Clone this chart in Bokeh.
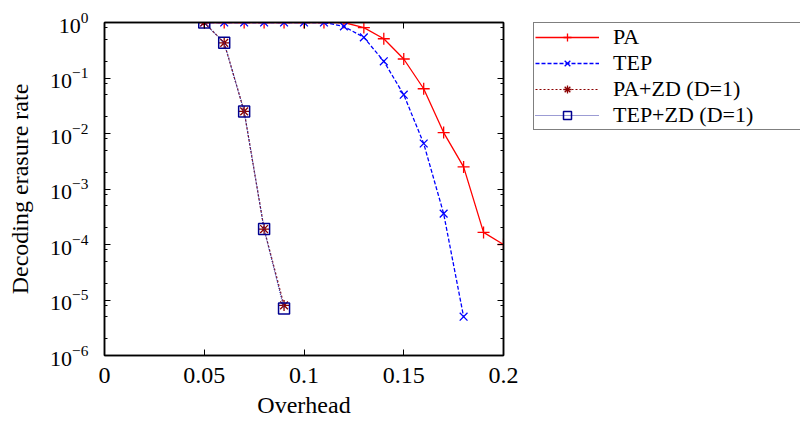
from bokeh.plotting import figure
from bokeh.layouts import row
from bokeh.models import (FixedTicker, LogAxis, LinearAxis, Legend, LegendItem, Range1d,
                          CustomJSTickFormatter)
from bokeh.embed import file_html
from bokeh.resources import INLINE

# ---- data ----
x_pa = [0.05, 0.06, 0.07, 0.08, 0.09, 0.10, 0.11, 0.12, 0.13, 0.14, 0.15, 0.16, 0.17, 0.18, 0.19, 0.20]
y_pa = [1, 1, 1, 1, 1, 1, 1, 1, 0.81, 0.51, 0.22, 0.064, 0.0104, 0.0025, 1.65e-4, 1.0e-4]

x_tep = [0.05, 0.06, 0.07, 0.08, 0.09, 0.10, 0.11, 0.12, 0.13, 0.14, 0.15, 0.16, 0.17, 0.18]
y_tep = [1, 1, 1, 1, 1, 1, 1, 0.85, 0.54, 0.20, 0.05, 0.0066, 3.6e-4, 5e-6]

x_zd = [0.05, 0.06, 0.07, 0.08, 0.09]
y_pa_zd = [1, 0.43, 0.025, 1.9e-4, 8e-6]
y_tep_zd = [1, 0.43, 0.025, 1.9e-4, 7e-6]

labels = ["PA", "TEP", "PA+ZD (D=1)", "TEP+ZD (D=1)"]

x_ticks = [0, 0.05, 0.1, 0.15, 0.2]
x_tick_labels = ["0", "0.05", "0.1", "0.15", "0.2"]
y_ticks = [1e-6, 1e-5, 1e-4, 1e-3, 1e-2, 1e-1, 1]
y_minor = [m * 10.0 ** e for e in range(-6, 0) for m in (2, 5, 8)]

FONT = "Liberation Serif"


def draw_series(fig):
    rs = []
    rs.append([fig.line(x_pa, y_pa, line_color="#ff0000", line_width=1.3),
               fig.scatter(x_pa, y_pa, marker="cross", size=12, line_color="#ff0000", line_width=1.3)])
    rs.append([fig.line(x_tep, y_tep, line_color="#0000ff", line_width=1.3, line_dash="4 2"),
               fig.scatter(x_tep, y_tep, marker="x", size=11, line_color="#0000ff", line_width=1.3)])
    rs.append([fig.line(x_zd, y_pa_zd, line_color="#8b0000", line_width=1.2, line_dash="2 2"),
               fig.scatter(x_zd, y_pa_zd, marker="asterisk", size=11, line_color="#8b0000", line_width=1.3)])
    rs.append([fig.line(x_zd, y_tep_zd, line_color="#3838a8", line_width=1.2, line_dash="1 1"),
               fig.scatter(x_zd, y_tep_zd, marker="square", size=11, line_color="#000090",
                           fill_color=None, line_width=1.5)])
    return rs


p = figure(frame_width=399, frame_height=333, output_backend="svg", toolbar_location=None,
           y_axis_type="log", x_range=Range1d(0, 0.2), y_range=Range1d(1e-6, 1),
           min_border_left=104, min_border_right=30, min_border_top=22, min_border_bottom=72)
p.grid.visible = False
p.outline_line_color = "black"
p.outline_line_width = 1.5
p.background_fill_color = "white"
p.border_fill_color = "white"

draw_series(p)


def style_axis(ax, fs):
    ax.axis_line_color = "black"
    ax.axis_line_width = 1.5
    ax.major_tick_in = 6
    ax.major_tick_out = 0
    ax.minor_tick_in = 3
    ax.minor_tick_out = 0
    ax.major_tick_line_color = "black"
    ax.minor_tick_line_color = "black"
    ax.major_label_text_font = FONT
    ax.major_label_text_font_size = fs
    ax.major_label_text_color = "black"
    ax.axis_label_text_font = FONT
    ax.axis_label_text_font_size = "24px"
    ax.axis_label_text_font_style = "normal"
    ax.axis_label_text_color = "black"


xa = p.xaxis[0]
xa.ticker = FixedTicker(ticks=x_ticks)
xa.major_label_overrides = {t: s for t, s in zip(x_ticks, x_tick_labels)}
xa.axis_label = "Overhead"
style_axis(xa, "24px")
xa.major_label_standoff = 12
xa.axis_label_standoff = 6

ya = p.yaxis[0]
ya.ticker = FixedTicker(ticks=y_ticks, minor_ticks=y_minor)
ya.axis_label = "Decoding erasure rate"
style_axis(ya, "22px")
ya.major_label_standoff = 16
ya.axis_label_standoff = 14

blank = CustomJSTickFormatter(code="return ''")

ra = LogAxis(ticker=FixedTicker(ticks=y_ticks, minor_ticks=y_minor), formatter=blank)
style_axis(ra, "22px")
ra.major_label_standoff = 0
p.add_layout(ra, "right")

ta = LinearAxis(ticker=FixedTicker(ticks=x_ticks), formatter=blank)
style_axis(ta, "22px")
ta.major_label_standoff = 0
p.add_layout(ta, "above")

# ---- legend panel (separate figure, same series kept out of its view) ----
pl = figure(width=267, height=427, output_backend="svg", toolbar_location=None,
            x_axis_location=None, y_axis_location=None,
            x_range=Range1d(1.0, 2.0), y_range=Range1d(1.0, 2.0),
            min_border_left=0, min_border_right=0, min_border_top=22, min_border_bottom=0)
pl.grid.visible = False
pl.outline_line_color = None
pl.background_fill_color = "white"
pl.border_fill_color = "white"
leg_rs = draw_series(pl)

legend = Legend(items=[LegendItem(label=lab, renderers=rs) for lab, rs in zip(labels, leg_rs)],
                location="top_left")
legend.label_text_font = FONT
legend.label_text_font_size = "22px"
legend.label_text_color = "black"
legend.glyph_width = 64
legend.glyph_height = 20
legend.label_height = 20
legend.label_width = 190
legend.spacing = -4
legend.padding = 1
legend.margin = 0
legend.label_standoff = 14
legend.border_line_color = "black"
legend.border_line_width = 1.2
legend.background_fill_alpha = 1
pl.add_layout(legend)

layout = row(p, pl, spacing=0)
open("out.html", "w").write(file_html(layout, INLINE))
